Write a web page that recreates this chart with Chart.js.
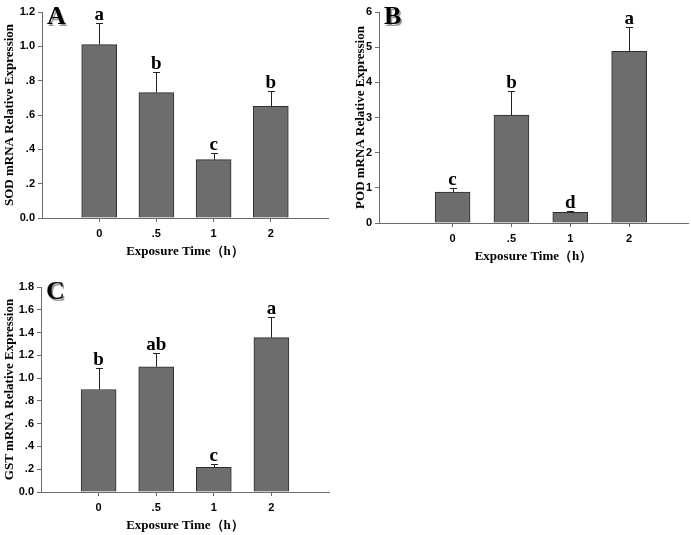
<!DOCTYPE html>
<html>
<head>
<meta charset="utf-8">
<script src="https://cdn.jsdelivr.net/npm/chart.js@4/dist/chart.umd.min.js"></script>
<style>
  html, body { margin: 0; padding: 0; background: #fff; overflow: hidden; }
  body { width: 691px; height: 535px; position: relative; }
  .panel { position: absolute; }
</style>
</head>
<body>
<div class="panel" style="left:0px;top:0px;width:345px;height:265px;"><canvas id="cA"></canvas></div>
<div class="panel" style="left:345px;top:0px;width:346px;height:270px;"><canvas id="cB"></canvas></div>
<div class="panel" style="left:0px;top:265px;width:345px;height:274px;"><canvas id="cC"></canvas></div>
<script>
// ---- data ----
const categories = ['0', '.5', '1', '2'];
const xTitle = 'Exposure Time\uFF08h\uFF09';

const sodMean = [1.01, 0.73, 0.34, 0.65];
const sodSD = [0.125, 0.12, 0.04, 0.09];
const sodLetters = ['a', 'b', 'c', 'b'];
const sodTicks = ['0.0', '.2', '.4', '.6', '.8', '1.0', '1.2'];

const podMean = [0.88, 3.07, 0.30, 4.88];
const podSD = [0.12, 0.69, 0.04, 0.69];
const podLetters = ['c', 'b', 'd', 'a'];
const podTicks = ['0', '1', '2', '3', '4', '5', '6'];

const gstMean = [0.90, 1.10, 0.217, 1.355];
const gstSD = [0.19, 0.12, 0.025, 0.18];
const gstLetters = ['b', 'ab', 'c', 'a'];
const gstTicks = ['0.0', '.2', '.4', '.6', '.8', '1.0', '1.2', '1.4', '1.6', '1.8'];

// ---- styling ----
const SERIF = '"Liberation Serif", "Times New Roman", serif';
const SANS = '"Liberation Sans", Arial, sans-serif';
const AXIS = '#6b6b6b';

const annotate = {
  id: 'annotate',
  afterDatasetsDraw(chart, args, opts) {
    const ctx = chart.ctx;
    const xs = chart.scales.x, ys = chart.scales.y;
    ctx.save();
    opts.means.forEach((m, i) => {
      const x = xs.getPixelForValue(i + 1);
      const yBar = ys.getPixelForValue(m);
      const yErr = ys.getPixelForValue(m + opts.sds[i]);
      ctx.strokeStyle = '#222';
      ctx.lineWidth = 1;
      ctx.beginPath();
      ctx.moveTo(Math.round(x) + 0.5, yBar);
      ctx.lineTo(Math.round(x) + 0.5, Math.round(yErr) + 0.5);
      ctx.moveTo(Math.round(x) - 3, Math.round(yErr) + 0.5);
      ctx.lineTo(Math.round(x) + 4, Math.round(yErr) + 0.5);
      ctx.stroke();
      ctx.fillStyle = '#000';
      ctx.font = 'bold 19px ' + SERIF;
      ctx.textAlign = 'center';
      ctx.textBaseline = 'alphabetic';
      ctx.fillText(opts.letters[i], x, yErr - 3);
    });
    // panel label
    const ca = chart.chartArea;
    ctx.font = 'bold 26px ' + SERIF;
    ctx.textAlign = 'left';
    ctx.fillStyle = '#9a9a9a';
    ctx.fillText(opts.panel, ca.left + 6.5, ca.top + 13.5);
    ctx.fillStyle = '#000';
    ctx.fillText(opts.panel, ca.left + 5, ca.top + 12);
    ctx.restore();
  }
};

function makePanel(id, cfg) {
  const data = cfg.means.map((m, i) => ({ x: i + 1, y: m }));
  return new Chart(document.getElementById(id), {
    type: 'bar',
    data: {
      datasets: [{
        data: data,
        backgroundColor: '#6d6d6d',
        borderColor: '#2e2e2e',
        borderWidth: 1,
        borderSkipped: 'bottom',
        barThickness: 35
      }]
    },
    plugins: [annotate],
    options: {
      responsive: true,
      maintainAspectRatio: false,
      animation: false,
      layout: { padding: { top: cfg.padTop, right: cfg.padRight, left: 0, bottom: 0 } },
      plugins: {
        legend: { display: false },
        tooltip: { enabled: false },
        annotate: { means: cfg.means, sds: cfg.sds, letters: cfg.letters, panel: cfg.panel }
      },
      scales: {
        x: {
          type: 'linear',
          min: cfg.xMin, max: 5,
          offset: false,
          afterBuildTicks: s => { s.ticks = categories.map((c, i) => ({ value: i + 1 })); },
          afterFit: s => { s.height = 47; },
          grid: { display: true, drawOnChartArea: false, offset: false, tickLength: 4, color: AXIS },
          border: { display: true, color: AXIS, width: 1 },
          ticks: {
            padding: 5,
            color: '#000',
            font: { family: SANS, size: 11, weight: 'bold' },
            callback: v => categories[Math.round(v) - 1] || ''
          },
          title: {
            display: true, text: xTitle, color: '#000',
            font: { family: SERIF, size: 13, weight: 'bold' },
            padding: { top: 0, bottom: 6 }
          }
        },
        y: {
          min: 0, max: cfg.yMax,
          afterFit: s => { s.width = cfg.yWidth; },
          grid: { display: true, drawOnChartArea: false, tickLength: 4, color: AXIS },
          border: { display: true, color: AXIS, width: 1 },
          ticks: {
            stepSize: cfg.step,
            padding: 3,
            color: '#000',
            font: { family: SANS, size: 11, weight: 'bold' },
            callback: v => cfg.ticks[Math.round(v / cfg.step)]
          },
          title: {
            display: true, text: cfg.yTitle, color: '#000',
            font: { family: SERIF, size: 13, weight: 'bold' },
            padding: { top: cfg.titlePad, bottom: 0 }
          }
        }
      }
    }
  });
}

makePanel('cA', { means: sodMean, sds: sodSD, letters: sodLetters, ticks: sodTicks, panel: 'A',
  yTitle: 'SOD mRNA Relative Expression', yMax: 1.2, step: 0.2, xMin: 0,
  padTop: 12, padRight: 17, yWidth: 42, titlePad: 2 });
makePanel('cB', { means: podMean, sds: podSD, letters: podLetters, ticks: podTicks, panel: 'B',
  yTitle: 'POD mRNA Relative Expression', yMax: 6, step: 1, xMin: -0.25,
  padTop: 12, padRight: 3, yWidth: 34, titlePad: 8 });
makePanel('cC', { means: gstMean, sds: gstSD, letters: gstLetters, ticks: gstTicks, panel: 'C',
  yTitle: 'GST mRNA Relative Expression', yMax: 1.8, step: 0.2, xMin: 0,
  padTop: 22, padRight: 16, yWidth: 41, titlePad: 2 });
</script>
</body>
</html>
